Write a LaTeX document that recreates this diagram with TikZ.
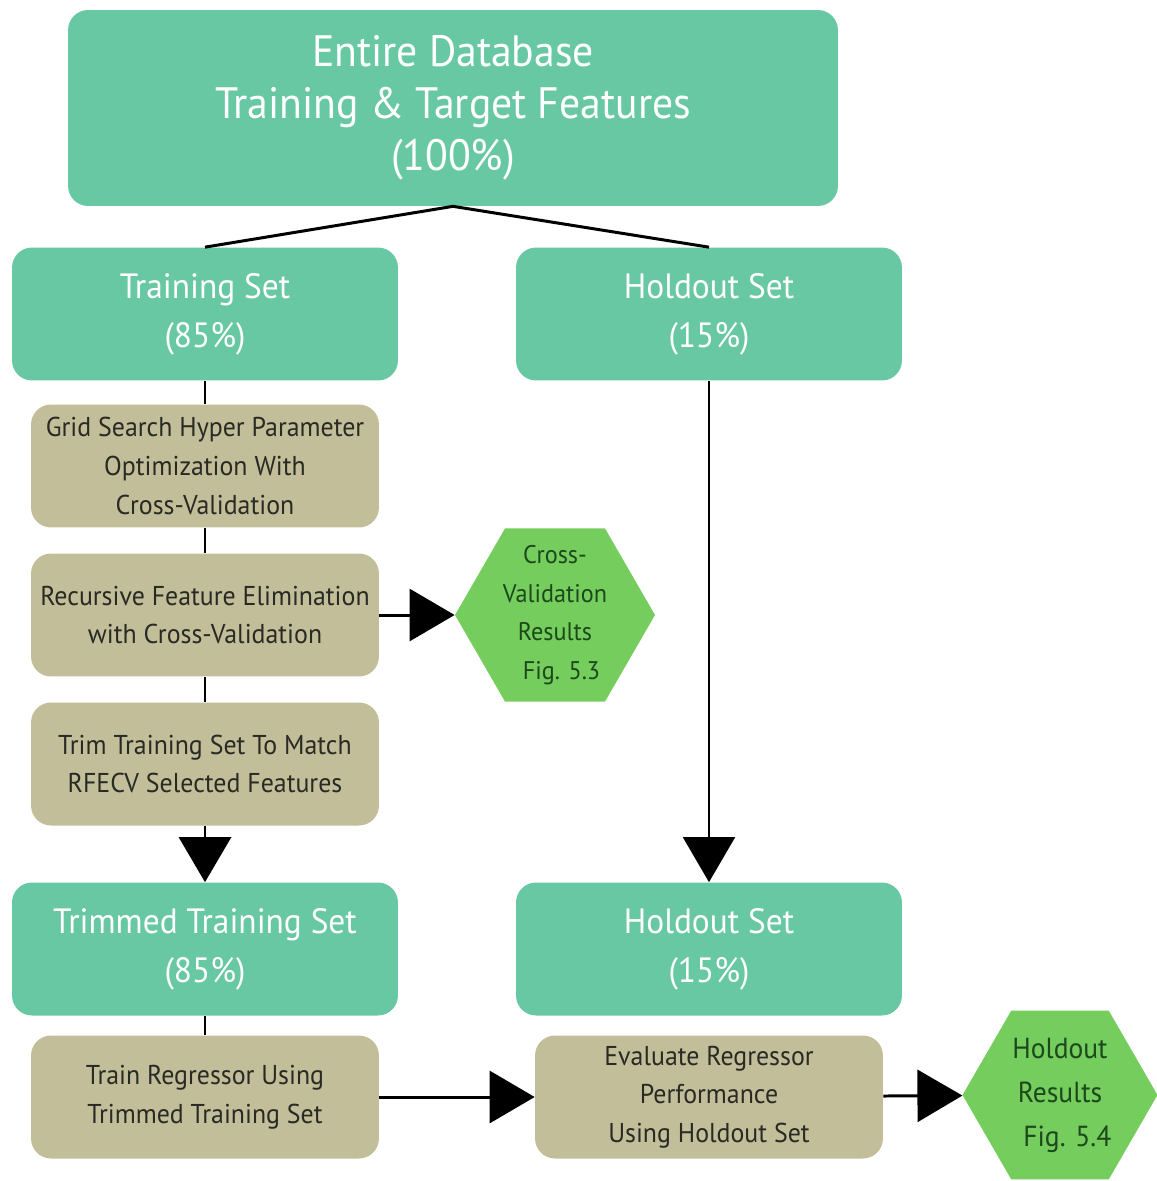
\documentclass[tikz,border=0pt]{standalone}
\usepackage{fontspec}
\setmainfont{PT Sans}[FakeStretch=0.95]
\usepackage{tikz}
\usetikzlibrary{shapes.geometric}
\usetikzlibrary{arrows.meta}

\definecolor{setgreen}{RGB}{104,200,164}
\definecolor{steptan}{RGB}{193,190,153}
\definecolor{resgreen}{RGB}{116,205,92}
\definecolor{restext}{RGB}{28,72,28}
\definecolor{steptext}{RGB}{42,42,36}

\begin{document}
\begin{tikzpicture}[x=0.02cm, y=-0.02cm,
    setbox/.style={rectangle, rounded corners=0.4cm, fill=setgreen, text=white, minimum width=7.72cm, minimum height=2.66cm, align=center, font=\fontsize{20}{28}\selectfont},
    stepbox/.style={rectangle, rounded corners=0.4cm, fill=steptan, text=steptext, minimum width=6.96cm, minimum height=2.46cm, align=center, font=\fontsize{15.5}{22}\selectfont},
    result/.style={regular polygon, regular polygon sides=6, fill=resgreen, minimum size=4cm, inner sep=0pt},
    restxt/.style={text=restext, align=center, font=\fontsize{14.5}{22}\selectfont},
    link/.style={line width=1.7pt},
    thinlink/.style={line width=1.1pt},
    big/.style={-{Triangle[length=0.9cm, width=1.04cm]}}]

        \useasboundingbox (0, 0) rectangle (1157, 1181);

        \node[setbox, minimum width=15.4cm, minimum height=3.92cm, font=\fontsize{25}{29.5}\selectfont] (db) at (453, 108) {Entire Database\\Training \& Target Features\\(100\%)};
        \node[setbox]    (train)   at (205, 314)    {Training Set\\(85\%)};
        \node[setbox]    (hold)    at (709, 314)    {Holdout Set\\(15\%)};
        \node[stepbox]   (grid)    at (205, 466)    {Grid Search Hyper Parameter\\Optimization With\\Cross-Validation};
        \node[stepbox]   (rfecv)   at (205, 615)    {Recursive Feature Elimination\\with Cross-Validation};
        \node[stepbox]   (trim)    at (205, 764)    {Trim Training Set To Match\\RFECV Selected Features};
        \node[result, label={[restxt]center:{Cross-\\Validation\\Results\\\ \ Fig. 5.3}}] (cv) at (555, 615) {};
        \node[setbox]    (trimmed) at (205, 949)    {Trimmed Training Set\\(85\%)};
        \node[setbox]    (hold2)   at (709, 949)    {Holdout Set\\(15\%)};
        \node[stepbox]   (fit)     at (205, 1097)   {Train Regressor Using\\Trimmed Training Set};
        \node[stepbox]   (eval)    at (709, 1097)   {Evaluate Regressor\\Performance\\Using Holdout Set};
        \node[result, minimum size=3.9cm, label={[restxt, font=\fontsize{16.5}{25}\selectfont]center:{Holdout\\Results\\\ \ Fig. 5.4}}] (hres) at (1060, 1095) {};


        \draw (db.south) edge[link] (train.north);
        \draw (db.south) edge[link] (hold.north);
        \draw (train) edge[thinlink] (grid);
        \draw (grid) edge[thinlink] (rfecv);
        \draw (rfecv) edge[link] (trim);
        \draw (rfecv) edge[big, link] (cv);
        \draw (trim) edge[big, link] (trimmed);
        \draw (hold) edge[big, thinlink] (hold2);
        \draw (trimmed) edge[link] (fit);
        \draw (fit) edge[big, link] (eval);
        \draw (eval) edge[big, link] (hres);
      \end{tikzpicture}
\end{document}
